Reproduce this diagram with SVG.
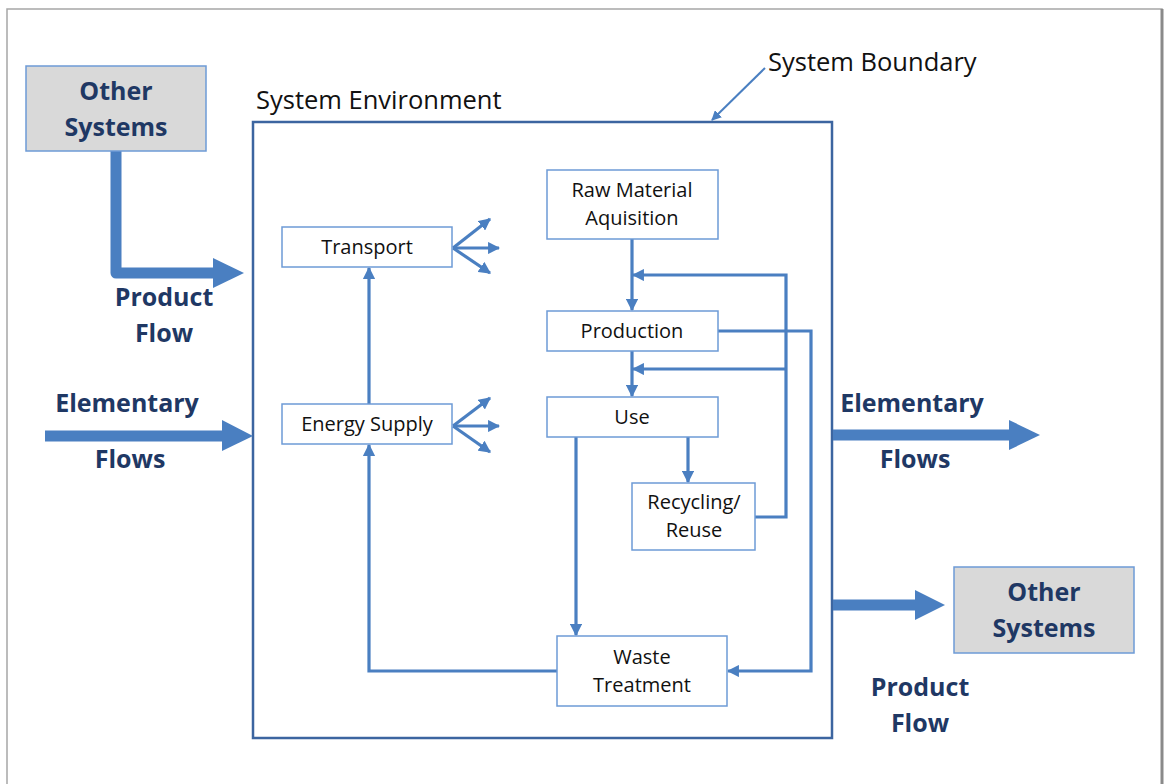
<svg xmlns="http://www.w3.org/2000/svg" width="1164" height="784" viewBox="0 0 1164 784">
  <style>
    .frame { fill: #ffffff; stroke: #a6a6a6; stroke-width: 1.5; }
    .boundary { fill: none; stroke: #3c65a0; stroke-width: 2.5; }
    .box { fill: #ffffff; stroke: #6d9bd6; stroke-width: 1.5; }
    .ext { fill: #d9d9d9; stroke: #6d9bd6; stroke-width: 1.5; }
    .lbl { font-family: "Open Sans", "Liberation Sans", sans-serif; font-size: 20px; fill: #111111; text-anchor: middle; }
    .ttl { font-family: "Open Sans", "Liberation Sans", sans-serif; font-size: 25.5px; fill: #111111; }
    .big { font-family: "Open Sans", "Liberation Sans", sans-serif; font-size: 25px; font-weight: bold; fill: #1f3864; text-anchor: middle; }
    .wire { fill: none; stroke: #4a7fc1; stroke-width: 3.2; }
    .thin { fill: none; stroke: #4a7fc1; stroke-width: 2; }
    .fat { fill: none; stroke: #4a7fc1; stroke-width: 11; }
    .head { fill: #4a7fc1; }
  </style>
  <defs>
    <marker id="arr" viewBox="0 0 10 10" refX="9" refY="5" markerWidth="3.8" markerHeight="3.8" orient="auto">
      <path d="M0,0 L10,5 L0,10 Z" fill="#4a7fc1"/>
    </marker>
    <marker id="arrThin" viewBox="0 0 10 10" refX="9" refY="5" markerWidth="5" markerHeight="5" orient="auto">
      <path d="M0,0 L10,5 L0,10 Z" fill="#4a7fc1"/>
    </marker>
  </defs>

  <!-- page frame -->
  <rect class="frame" x="7" y="9" width="1155" height="800"/>
  <line x1="1162" y1="9" x2="1162" y2="784" stroke="#8a8a8a" stroke-width="3"/>

  <!-- system boundary -->
  <g id="boundary">
    <rect class="boundary" x="253" y="122" width="579" height="616"/>
    <text class="ttl" x="256" y="109">System Environment</text>
    <text class="ttl" x="768" y="71">System Boundary</text>
  </g>

  <!-- connectors -->
  <g id="connectors">
    <!-- boundary leader -->
    <line class="thin" x1="765" y1="68" x2="712" y2="120" marker-end="url(#arrThin)"/>

    <!-- product flow in -->
    <path class="fat" d="M116,151 V273 H214" stroke-linejoin="round"/>
    <polygon class="head" points="213,258 244,273 213,288"/>
    <!-- elementary flows in -->
    <line class="fat" x1="45" y1="436" x2="223" y2="436" stroke-width="10"/>
    <polygon class="head" points="222,420 253,436 222,451"/>
    <!-- elementary flows out -->
    <line class="fat" x1="833" y1="435" x2="1010" y2="435" stroke-width="10"/>
    <polygon class="head" points="1009,420 1040,435 1009,450"/>
    <!-- product flow out -->
    <line class="fat" x1="833" y1="605" x2="916" y2="605" stroke-width="10"/>
    <polygon class="head" points="915,590 945,605 915,620"/>

    <!-- internal flows -->
    <line class="wire" x1="632" y1="239" x2="632" y2="310" marker-end="url(#arr)"/>
    <line class="wire" x1="632" y1="351" x2="632" y2="396" marker-end="url(#arr)"/>
    <line class="wire" x1="688" y1="437" x2="688" y2="482" marker-end="url(#arr)"/>
    <line class="wire" x1="576" y1="437" x2="576" y2="635" marker-end="url(#arr)"/>
    <path class="wire" d="M755,517 H786 V275 H633" marker-end="url(#arr)"/>
    <path class="wire" d="M786,369 H633" marker-end="url(#arr)"/>
    <path class="wire" d="M718,331 H811 V671 H728" marker-end="url(#arr)"/>
    <path class="wire" d="M557,671 H369 V445" marker-end="url(#arr)"/>
    <line class="wire" x1="369" y1="404" x2="369" y2="268" marker-end="url(#arr)"/>

    <!-- transport emissions -->
    <line class="wire" x1="453" y1="248" x2="490" y2="219" marker-end="url(#arr)"/>
    <line class="wire" x1="453" y1="248" x2="499" y2="248" marker-end="url(#arr)"/>
    <line class="wire" x1="453" y1="248" x2="490" y2="273" marker-end="url(#arr)"/>
    <!-- energy supply emissions -->
    <line class="wire" x1="453" y1="426" x2="490" y2="398" marker-end="url(#arr)"/>
    <line class="wire" x1="453" y1="426" x2="499" y2="426" marker-end="url(#arr)"/>
    <line class="wire" x1="453" y1="426" x2="490" y2="452" marker-end="url(#arr)"/>
  </g>

  <!-- outside systems -->
  <g id="other-in">
    <rect class="ext" x="26" y="66" width="180" height="85"/>
    <text class="big" x="116" y="100">Other</text>
    <text class="big" x="116" y="136">Systems</text>
  </g>
  <g id="other-out">
    <rect class="ext" x="954" y="567" width="180" height="86"/>
    <text class="big" x="1044" y="601">Other</text>
    <text class="big" x="1044" y="637">Systems</text>
  </g>

  <!-- flow labels -->
  <g id="flow-labels">
    <text class="big" x="164" y="306">Product</text>
    <text class="big" x="164" y="342">Flow</text>
    <text class="big" x="127" y="412">Elementary</text>
    <text class="big" x="130" y="468">Flows</text>
    <text class="big" x="912" y="412">Elementary</text>
    <text class="big" x="915" y="468">Flows</text>
    <text class="big" x="920" y="696">Product</text>
    <text class="big" x="920" y="732">Flow</text>
  </g>

  <!-- life cycle stages -->
  <g id="transport">
    <rect class="box" x="282" y="227" width="170" height="40"/>
    <text class="lbl" x="367" y="254">Transport</text>
  </g>
  <g id="energy-supply">
    <rect class="box" x="282" y="404" width="170" height="40"/>
    <text class="lbl" x="367" y="431">Energy Supply</text>
  </g>
  <g id="raw-material">
    <rect class="box" x="547" y="170" width="171" height="69"/>
    <text class="lbl" x="632" y="197">Raw Material</text>
    <text class="lbl" x="632" y="225">Aquisition</text>
  </g>
  <g id="production">
    <rect class="box" x="547" y="311" width="171" height="40"/>
    <text class="lbl" x="632" y="338">Production</text>
  </g>
  <g id="use">
    <rect class="box" x="547" y="397" width="171" height="40"/>
    <text class="lbl" x="632" y="424">Use</text>
  </g>
  <g id="recycling">
    <rect class="box" x="632" y="483" width="123" height="67"/>
    <text class="lbl" x="694" y="509">Recycling/</text>
    <text class="lbl" x="694" y="537">Reuse</text>
  </g>
  <g id="waste-treatment">
    <rect class="box" x="557" y="636" width="170" height="70"/>
    <text class="lbl" x="642" y="664">Waste</text>
    <text class="lbl" x="642" y="692">Treatment</text>
  </g>
</svg>
